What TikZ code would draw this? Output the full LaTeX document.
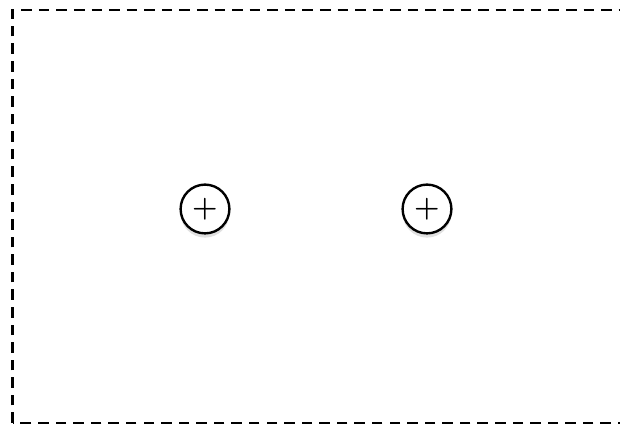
\documentclass[tikz,border=0pt]{standalone}
\usetikzlibrary{shadows}

\tikzset{
  somme/.style={circle, draw, line width=1.7pt, minimum size=1.22cm, inner sep=0pt,
    fill=white, font=\huge\boldmath,
    drop shadow={shadow xshift=0pt, shadow yshift=-3pt, opacity=0.12, fill=black}},
  cadre/.style={line width=1.8pt, dash pattern=on 7.5pt off 5pt}
}

\begin{document}
\begin{tikzpicture}
        \useasboundingbox (0,0) rectangle (15.5,10.625);
        \clip (0,0) rectangle (15.5,10.625);

        % Le cadre en pointillés
        \draw[cadre] (0.3125,0.05) rectangle (15.7,10.375);

        % Les deux sommateurs
        \node[somme] (s1) at (5.125,5.4) {$+$};
        \node[somme] (s2) at (10.675,5.4) {$+$};

    \end{tikzpicture}
\end{document}
